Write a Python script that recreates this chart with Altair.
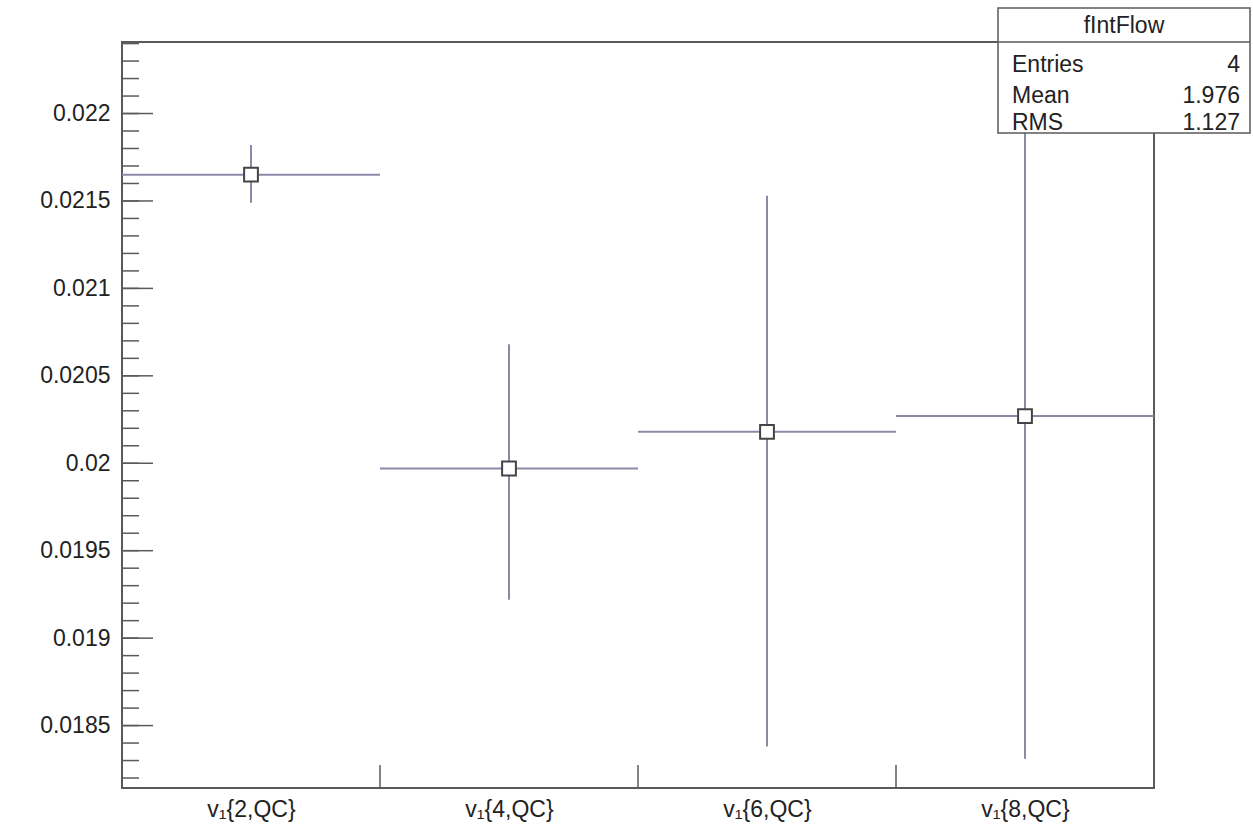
import altair as alt
import pandas as pd

# ---- data ----
categories = ["v\u2081{2,QC}", "v\u2081{4,QC}", "v\u2081{6,QC}", "v\u2081{8,QC}"]
bin_lo = [0, 1, 2, 3]
bin_hi = [1, 2, 3, 4]
values = [0.02165, 0.01997, 0.02018, 0.02027]
err_low = [0.02149, 0.01922, 0.01838, 0.01831]
err_high = [0.02182, 0.02068, 0.02153, 0.02240]

y_major = [0.0185, 0.019, 0.0195, 0.02, 0.0205, 0.021, 0.0215, 0.022]
y_minor = [round(0.0182 + 0.0001 * i, 4) for i in range(43)]
x_ticks = [1, 2, 3]

stats_title = "fIntFlow"
stats_names = ["Entries", "Mean", "RMS"]
stats_vals = ["4", "1.976", "1.127"]

Y_DOMAIN = [0.018143, 0.022409]
X_DOMAIN = [0, 4]
W, H = 1032, 746
FONT = "Liberation Sans"
LINE = "#8a8aa8"
FRAME = "#5a5a5a"
TXT = "#222222"

df = pd.DataFrame({
    "lo": bin_lo, "hi": bin_hi,
    "center": [(a + b) / 2 for a, b in zip(bin_lo, bin_hi)],
    "v": values, "elo": err_low, "ehi": err_high,
})

xs = alt.Scale(domain=X_DOMAIN, nice=False, zero=False)
ys = alt.Scale(domain=Y_DOMAIN, nice=False, zero=False)

label_expr = "[" + ",".join("'" + c + "'" for c in categories) + "][floor(datum.value)]"

base = alt.Chart(df)

hbars = base.mark_rule(color=LINE, strokeWidth=2).encode(
    x=alt.X("lo:Q", scale=xs,
            axis=alt.Axis(values=[0.5, 1.5, 2.5, 3.5], labelExpr=label_expr, title=None,
                          domain=False, ticks=False, grid=False, labelFont=FONT,
                          labelFontSize=23, labelColor=TXT, labelPadding=10)),
    x2="hi:Q",
    y=alt.Y("v:Q", scale=ys,
            axis=alt.Axis(values=y_major, format=".4~f", title=None, domain=False,
                          ticks=False, grid=False, labelFont=FONT, labelFontSize=23,
                          labelColor=TXT, labelPadding=12)),
)

vbars = base.mark_rule(color=LINE, strokeWidth=2).encode(
    x=alt.X("center:Q", scale=xs), y=alt.Y("elo:Q", scale=ys), y2="ehi:Q"
)

markers = base.mark_point(shape="square", filled=True, fill="white", stroke="#444",
                          strokeWidth=2, size=190, opacity=1).encode(
    x=alt.X("center:Q", scale=xs), y=alt.Y("v:Q", scale=ys)
)

major_df = pd.DataFrame({"t": y_major})
minor_df = pd.DataFrame({"t": [t for t in y_minor if Y_DOMAIN[0] < t < Y_DOMAIN[1]]})
ymaj = alt.Chart(major_df).mark_rule(color=FRAME, strokeWidth=1.5).encode(
    x=alt.value(0), x2=alt.value(31), y=alt.Y("t:Q", scale=ys))
ymin = alt.Chart(minor_df).mark_rule(color=FRAME, strokeWidth=1.5).encode(
    x=alt.value(0), x2=alt.value(17), y=alt.Y("t:Q", scale=ys))
xt = alt.Chart(pd.DataFrame({"t": x_ticks})).mark_rule(color=FRAME, strokeWidth=1.5).encode(
    x=alt.X("t:Q", scale=xs), y=alt.value(H), y2=alt.value(H - 23))

one = pd.DataFrame({"a": [0]})
BX0, BX1, BY0, BY1 = 876, 1128, -34, 91
box = alt.Chart(one).mark_rect(fill="white", stroke=FRAME, strokeWidth=1.5).encode(
    x=alt.value(BX0), x2=alt.value(BX1), y=alt.value(BY0), y2=alt.value(BY1))
sep = alt.Chart(one).mark_rule(color=FRAME, strokeWidth=1.5).encode(
    x=alt.value(BX0), x2=alt.value(BX1), y=alt.value(0))
title_t = alt.Chart(pd.DataFrame({"s": [stats_title]})).mark_text(
    font=FONT, fontSize=23, color=TXT, align="center", baseline="middle").encode(
    text="s:N", x=alt.value((BX0 + BX1) / 2), y=alt.value(-16))

row_y = [23, 54, 81]
stat_layers = []
for name, val, ry in zip(stats_names, stats_vals, row_y):
    rdf = pd.DataFrame({"n": [name], "val": [val]})
    stat_layers.append(alt.Chart(rdf).mark_text(
        font=FONT, fontSize=23, color=TXT, align="left", baseline="middle").encode(
        text="n:N", x=alt.value(BX0 + 14), y=alt.value(ry)))
    stat_layers.append(alt.Chart(rdf).mark_text(
        font=FONT, fontSize=23, color=TXT, align="right", baseline="middle").encode(
        text="val:N", x=alt.value(BX1 - 10), y=alt.value(ry)))

chart = alt.layer(
    hbars, vbars, markers, ymaj, ymin, xt, box, sep, title_t, *stat_layers
).properties(
    width=W, height=H,
    autosize=alt.AutoSizeParams(type="none"),
    padding={"left": 122, "top": 42, "right": 99, "bottom": 49},
    background="white",
).configure_view(stroke=FRAME, strokeWidth=2)

chart.save("out.html", embed_options={"renderer": "svg", "actions": False})
